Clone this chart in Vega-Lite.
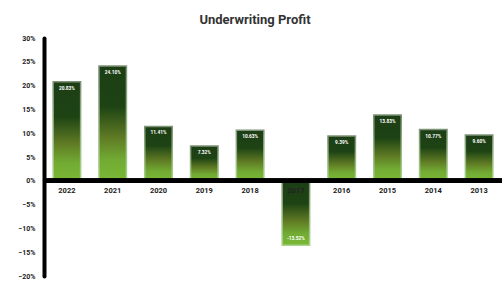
{
  "$schema": "https://vega.github.io/schema/vega-lite/v6.json",
  "width": 458,
  "height": 238,
  "autosize": "none",
  "padding": {"left": 44, "top": 38, "right": 0, "bottom": 8},
  "background": "white",
  "config": {"view": {"stroke": null}, "font": "Roboto"},
  "title": {"text": "Underwriting Profit", "fontSize": 13, "fontWeight": "bold", "color": "#333333", "font": "Roboto", "anchor": "middle", "dx": -18, "offset": 7},
  "data": {"values": [
    {"year": "2022", "value": 0.2083, "label": "20.83%"},
    {"year": "2021", "value": 0.2410, "label": "24.10%"},
    {"year": "2020", "value": 0.1141, "label": "11.41%"},
    {"year": "2019", "value": 0.0732, "label": "7.32%"},
    {"year": "2018", "value": 0.1063, "label": "10.63%"},
    {"year": "2017", "value": -0.1352, "label": "-13.52%"},
    {"year": "2016", "value": 0.0939, "label": "9.39%"},
    {"year": "2015", "value": 0.1383, "label": "13.83%"},
    {"year": "2014", "value": 0.1077, "label": "10.77%"},
    {"year": "2013", "value": 0.0960, "label": "9.60%"}
  ]},
  "encoding": {
    "x": {"field": "year", "type": "nominal", "sort": null, "scale": {"paddingInner": 0.4, "paddingOuter": 0.2}, "axis": null},
    "y": {"field": "value", "type": "quantitative", "scale": {"domain": [-0.2, 0.3], "nice": false, "zero": false},
      "axis": {"format": ".0%", "values": [-0.2, -0.15, -0.1, -0.05, 0, 0.05, 0.1, 0.15, 0.2, 0.25, 0.3], "grid": false, "ticks": false, "domainColor": "black", "domainWidth": 4, "domainCap": "round", "labelFont": "Roboto", "labelFontWeight": "bold", "labelFontSize": 7, "labelColor": "#222222", "labelPadding": 9, "title": null}}
  },
  "layer": [
    {"mark": {"type": "bar", "strokeWidth": 1.5,
      "fill": {"gradient": "linear", "x1": 0, "y1": 0, "x2": 0, "y2": 1, "stops": [
        {"offset": 0, "color": "#1d3e15"}, {"offset": 0.35, "color": "#1d4314"}, {"offset": 0.62, "color": "#5f7a24"}, {"offset": 0.82, "color": "#72ab33"}, {"offset": 1, "color": "#7ab836"}]},
      "stroke": {"gradient": "linear", "x1": 0, "y1": 0, "x2": 0, "y2": 1, "stops": [
        {"offset": 0, "color": "#7e9478"}, {"offset": 1, "color": "#a8d38a"}]}}},
    {"mark": {"type": "rule", "color": "black", "strokeWidth": 4}, "encoding": {"y": {"datum": 0}, "x": null}},
    {"transform": [{"filter": "datum.value >= 0"}],
      "mark": {"type": "text", "color": "white", "fontSize": 4.8, "fontWeight": "bold", "baseline": "top", "dy": 4, "font": "Roboto"},
      "encoding": {"text": {"field": "label"}}},
    {"transform": [{"filter": "datum.value < 0"}],
      "mark": {"type": "text", "color": "white", "fontSize": 4.8, "fontWeight": "bold", "baseline": "bottom", "dy": -4, "font": "Roboto"},
      "encoding": {"text": {"field": "label"}}},
    {"mark": {"type": "text", "color": "#222222", "fontSize": 7.5, "fontWeight": "bold", "baseline": "middle", "dy": 10, "font": "Roboto"},
      "encoding": {"y": {"datum": 0}, "text": {"field": "year"}}}
  ]
}
